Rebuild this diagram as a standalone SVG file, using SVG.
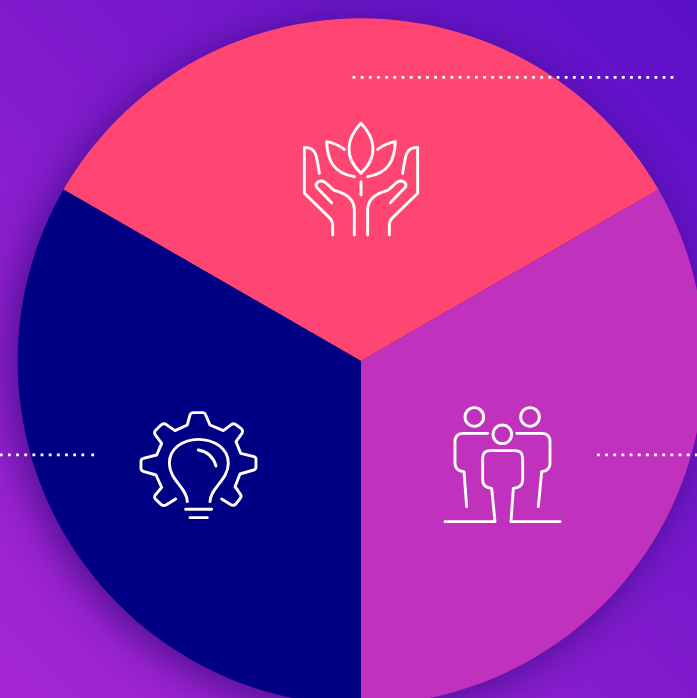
<svg xmlns="http://www.w3.org/2000/svg" width="697" height="698" viewBox="0 0 697 698">
<style>
.i{fill:none;stroke:#fff;stroke-width:8.700;stroke-linecap:round;stroke-linejoin:round}
.d{fill:none;stroke:#fff;stroke-width:2.800;stroke-dasharray:2.800 5.360}
</style>
<defs>
<linearGradient id="bg" gradientUnits="userSpaceOnUse" x1="697" y1="0" x2="0" y2="698">
<stop offset="0" stop-color="#5a10c8"/><stop offset="1" stop-color="#a526d2"/>
</linearGradient>
<filter id="sh" x="-20%" y="-20%" width="140%" height="140%" color-interpolation-filters="sRGB"><feGaussianBlur stdDeviation="20"/></filter>
</defs>
<rect width="697" height="698" fill="url(#bg)"/>
<circle cx="354" cy="368" r="344" fill="#34087a" opacity=".75" filter="url(#sh)"/>
<g id="sector-top">
<path d="M361 361L63.500 189.500A344 344 0 0 1 658.500 189.500Z" fill="#ff4673"/>
<g class="i" transform="translate(290 110) scale(.3333)">
<path d="M213 40C170 85 160 140 213 190C266 140 256 85 213 40Z"/>
<path d="M163 118C145 105 130 98 110 95C112 150 130 190 193 200"/>
<path d="M263 118C281 105 296 98 316 95C314 150 296 190 233 200"/>
<path d="M213 215V255"/>
<path d="M88 190C84 165 82 150 77 133C72 118 60 112 43 112V250L115 320Q128 332 128 345V375"/>
<path d="M338 190C342 165 344 150 349 133C354 118 366 112 383 112V250L311 320Q298 332 298 345V375"/>
<path d="M125 278L80 232C74 222 85 208 102 215C115 222 122 235 135 242C165 250 193 265 193 300V375"/>
<path d="M301 278L346 232C352 222 341 208 324 215C311 222 304 235 291 242C261 250 233 265 233 300V375"/>
</g>
</g>
<g id="sector-left">
<path d="M361 361L63.500 189.500A344 344 0 0 0 361 705Z" fill="#000085"/>
<g class="i" transform="translate(130 400) scale(.3333)">
<path d="M137 297L108 315Q100 319 93 313L77 298Q71 292 76 285L95 262L78 225L40 214Q33 212 33 205V184Q33 177 40 175L80 165L95 130L76 105Q71 97 77 91L93 75Q100 68 108 73L135 92L172 75L180 45Q183 38 190 38H218Q225 38 227 45L240 75L280 92L304 74Q312 68 319 75L334 86Q340 92 336 100L318 125L332 160L372 170Q378 172 378 179V201Q378 208 371 210L330 222L315 260L332 284Q335 290 330 296L318 312Q310 318 303 314L275 297"/>
<path d="M172 305C172 265 118 240 118 190C118 145 160 118 205 118C252 118 295 145 295 190C295 240 240 265 240 305"/>
<path d="M205 150C235 155 250 170 258 198"/>
<path d="M167 328H245M180 353H232"/>
</g>
</g>
<g id="sector-right">
<path d="M361 361L658.500 189.500A344 344 0 0 1 361 705Z" fill="#c032bd"/>
<g class="i" transform="translate(435 400) scale(.3333)">
<circle cx="118" cy="51" r="28"/><circle cx="285" cy="51" r="28"/><circle cx="202" cy="103" r="28"/>
<path d="M158 100H85Q60 100 60 125V190Q60 213 87 215L95 320"/>
<path d="M245 100H320Q345 100 345 125V190Q345 213 320 215L310 320"/>
<path d="M30 365H180L170 265Q143 262 143 240V175Q143 152 165 152H240Q263 152 263 175V240Q263 262 235 265L228 365H375"/>
</g>
</g>
<g id="connectors">
<path class="d" d="M352.600 77.300H667.500M670.600 77.300H673.400"/>
<path class="d" d="M-.2 454.800H85M91.300 454.800H94.100"/>
<path class="d" d="M597 454.800H697"/>
</g>
</svg>
